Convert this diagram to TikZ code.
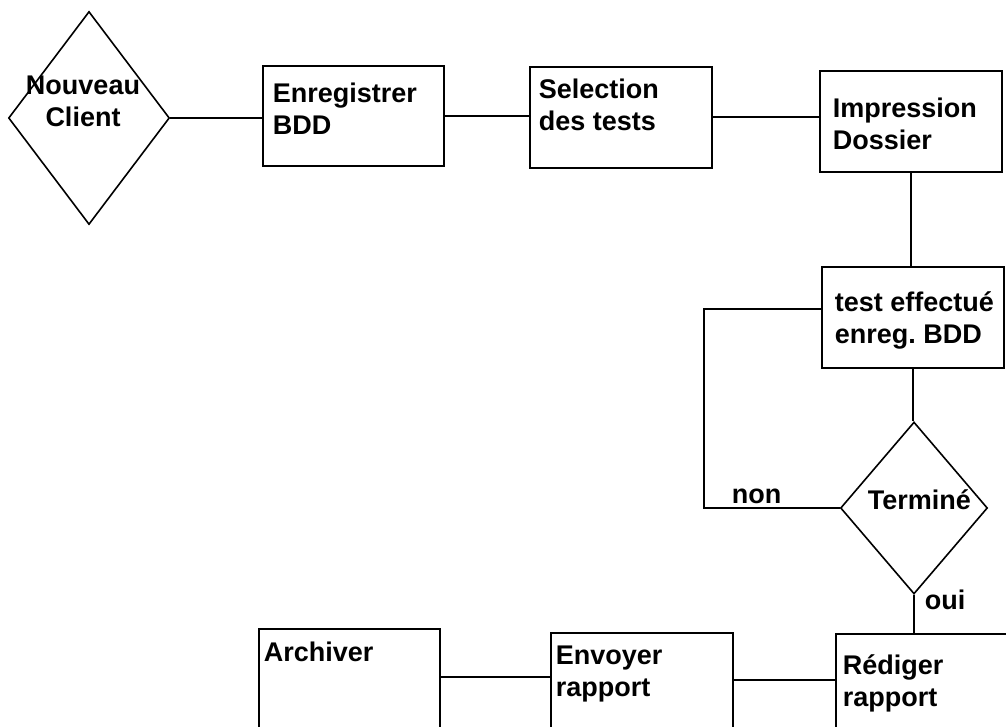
\documentclass[tikz,border=0pt]{standalone}
\usepackage{fontspec}
\setmainfont{Liberation Sans}
\usetikzlibrary{shapes.geometric}
\tikzset{
  boite/.style={draw,rectangle,inner sep=0pt,anchor=north west},
  losange/.style={draw,diamond,inner sep=0pt},
  txt/.style={inner sep=0pt,align=left,font=\bfseries\fontsize{27}{32}\selectfont},
}
\def\trait{\draw[line width=1.6pt]}
\frenchspacing

\begin{document}
\begin{tikzpicture}[x=1pt,y=-1pt,line width=1.6pt]
\useasboundingbox (0,0) rectangle (1006,727);
\clip (0,0) rectangle (1006,727);
% formes
\node[losange,minimum width=161pt,minimum height=213pt] (nc) at (89,118) {};
\node[boite,minimum width=181pt,minimum height=100pt] (enr) at (262,65) {};
\node[boite,minimum width=182pt,minimum height=101pt] (sel) at (529,66) {};
\node[boite,minimum width=182pt,minimum height=101pt] (imp) at (819,70) {};
\node[boite,minimum width=182pt,minimum height=101pt] (tst) at (821,266) {};
\node[losange,minimum width=147pt,minimum height=172pt] (ter) at (914,508) {};
\node[boite,minimum width=190pt,minimum height=130pt] (red) at (835,633) {};
\node[boite,minimum width=182pt,minimum height=130pt] (env) at (550,632) {};
\node[boite,minimum width=181pt,minimum height=130pt] (arc) at (258,628) {};
% textes
\node[txt,align=center,anchor=north] (tnc) at (83,75) {Nouveau\\Client};
\node[txt,anchor=north west] (tenr) at (272,82) {Enregistrer\\BDD};
\node[txt,anchor=north west] (tsel) at (538,78) {Selection\\des tests};
\node[txt,anchor=north west] (timp) at (832,97) {Impression\\Dossier};
\node[txt,anchor=north west] (ttst) at (834,291) {test effectué\\enreg. BDD};
\node[txt,anchor=base west] (tter) at (867,509) {Terminé};
\node[txt,anchor=base west] (tnon) at (731,503) {non};
\node[txt,anchor=base west] (toui) at (924,609) {oui};
\node[txt,anchor=north west] (tred) at (842,654) {Rédiger\\rapport};
\node[txt,anchor=north west] (tenv) at (555,645) {Envoyer\\rapport};
\node[txt,anchor=base west] (tarc) at (263,661) {Archiver};
% liaisons
\coordinate (r1) at ([yshift=-47pt]red.north west);
\coordinate (e1) at ([yshift=-45pt]env.north west);
\trait (nc.east) -- (nc.east -| enr.west);
\trait (enr.east) -- (enr.east -| sel.west);
\trait (sel.east) -- (sel.east -| imp.west);
\trait (imp.south) -- (imp.south |- tst.north);
\trait ([yshift=8.5pt]tst.west) -- ++(-117,0) |- (ter.west);
\trait (tst.south) -- (tst.south |- ter.north);
\trait (ter.south) -- (ter.south |- red.north);
\trait (r1) -- (r1 -| env.east);
\trait (e1) -- (e1 -| arc.east);
\end{tikzpicture}
\end{document}
